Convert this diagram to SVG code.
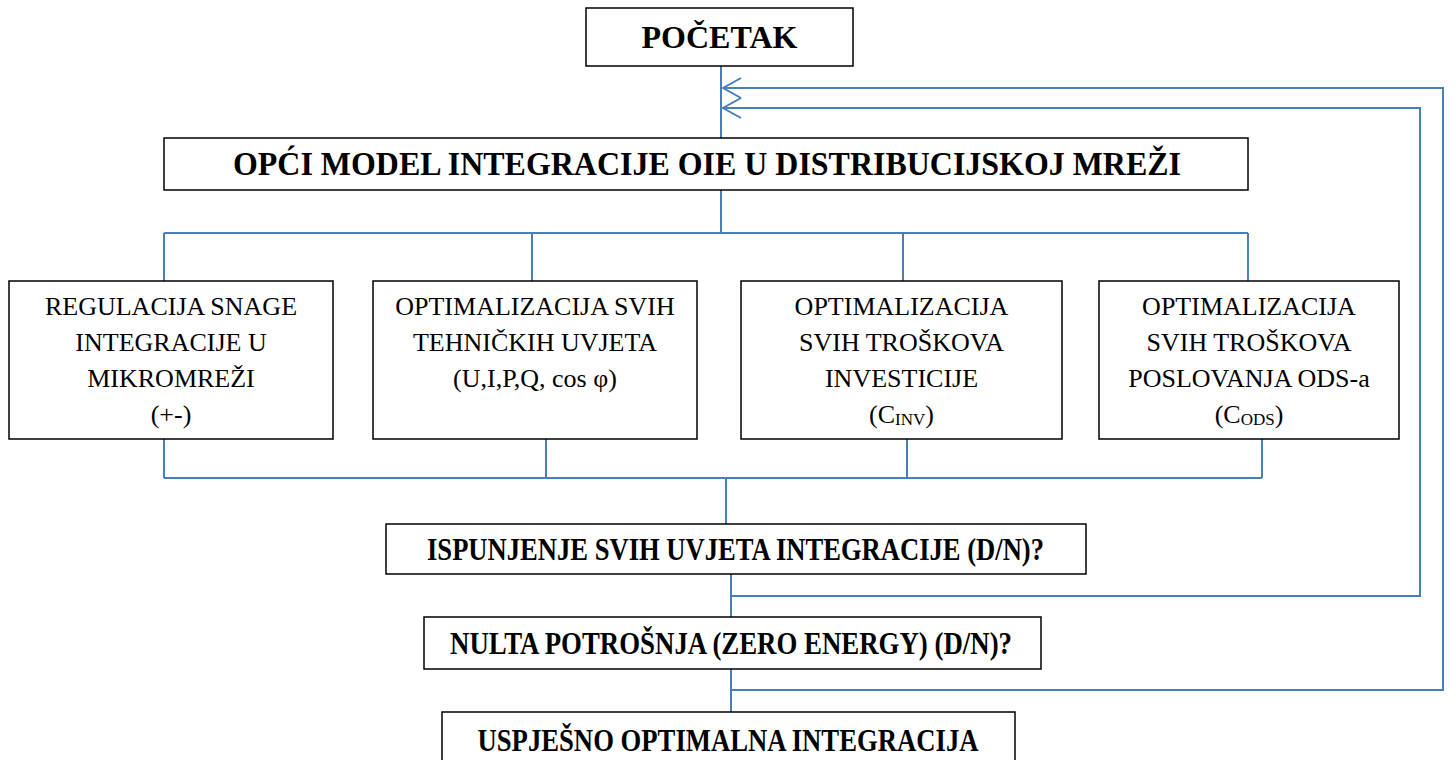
<svg xmlns="http://www.w3.org/2000/svg" width="1455" height="760" viewBox="0 0 1455 760">
<style>
.box{fill:#fff;stroke:#000;stroke-width:1.5}
.c{fill:none;stroke:#4a7ebb;stroke-width:2}
.t{font-family:"Liberation Serif","Times New Roman",serif;font-size:26px;fill:#000;text-anchor:middle}
.b{font-family:"Liberation Serif","Times New Roman",serif;font-weight:bold;fill:#000;text-anchor:middle}
.sub{font-size:17px}
</style>
<defs>
<marker id="chev" markerUnits="userSpaceOnUse" markerWidth="24" markerHeight="24" refX="0" refY="0" orient="auto" overflow="visible">
<path d="M-18,-10 L0,0 L-18,10" fill="none" stroke="#4a7ebb" stroke-width="2"/>
</marker>
</defs>
<rect width="1455" height="760" fill="#fff"/>
<g id="connectors">
<path class="c" d="M721,66 V138"/>
<path class="c" d="M721,190 V233"/>
<path class="c" d="M164,233 H1248 M164,233 V281 M532,233 V281 M903,233 V281 M1248,233 V281"/>
<path class="c" d="M164,439 V478 M546,439 V478 M907,439 V478 M1262,439 V478 M164,478 H1262"/>
<path class="c" d="M726,478 V524"/>
<path class="c" d="M731,574 V617"/>
<path class="c" d="M731,669 V712"/>
<path class="c" d="M731,596 H1420 V108 H723" marker-end="url(#chev)"/>
<path class="c" d="M731,690 H1443 V88 H723" marker-end="url(#chev)"/>
</g>
<g id="pocetak">
<rect class="box" x="586" y="8" width="267" height="58"/>
<text class="b" x="719.5" y="48" font-size="32">POČETAK</text>
</g>
<g id="opci">
<rect class="box" x="164" y="138" width="1084" height="52"/>
<text class="b" x="707" y="175" font-size="34" textLength="948" lengthAdjust="spacingAndGlyphs">OPĆI MODEL INTEGRACIJE OIE U DISTRIBUCIJSKOJ MREŽI</text>
</g>
<g id="regulacija">
<rect class="box" x="9" y="281" width="324" height="158"/>
<text class="t" x="171" y="315">REGULACIJA SNAGE</text>
<text class="t" x="171" y="351">INTEGRACIJE U</text>
<text class="t" x="171" y="387">MIKROMREŽI</text>
<text class="t" x="171" y="423">(+-)</text>
</g>
<g id="tehnicki">
<rect class="box" x="373" y="281" width="324" height="158"/>
<text class="t" x="535" y="315">OPTIMALIZACIJA SVIH</text>
<text class="t" x="535" y="351">TEHNIČKIH UVJETA</text>
<text class="t" x="535" y="387">(U,I,P,Q, cos φ)</text>
</g>
<g id="investicije">
<rect class="box" x="741" y="281" width="321" height="158"/>
<text class="t" x="901.5" y="315">OPTIMALIZACIJA</text>
<text class="t" x="901.5" y="351">SVIH TROŠKOVA</text>
<text class="t" x="901.5" y="387">INVESTICIJE</text>
<text class="t" x="901.5" y="423">(C<tspan class="sub" dy="2">INV</tspan><tspan dy="-2">)</tspan></text>
</g>
<g id="poslovanje">
<rect class="box" x="1099" y="281" width="300" height="158"/>
<text class="t" x="1249" y="315">OPTIMALIZACIJA</text>
<text class="t" x="1249" y="351">SVIH TROŠKOVA</text>
<text class="t" x="1249" y="387">POSLOVANJA ODS-a</text>
<text class="t" x="1249" y="423">(C<tspan class="sub" dy="2">ODS</tspan><tspan dy="-2">)</tspan></text>
</g>
<g id="ispunjenje">
<rect class="box" x="386" y="524" width="700" height="50"/>
<text class="b" x="735.5" y="560" font-size="31" textLength="617" lengthAdjust="spacingAndGlyphs">ISPUNJENJE SVIH UVJETA INTEGRACIJE (D/N)?</text>
</g>
<g id="nulta">
<rect class="box" x="424" y="617" width="617" height="52"/>
<text class="b" x="731" y="654" font-size="31" textLength="562" lengthAdjust="spacingAndGlyphs">NULTA POTROŠNJA (ZERO ENERGY) (D/N)?</text>
</g>
<g id="uspjesno">
<rect class="box" x="442" y="712" width="573" height="56"/>
<text class="b" x="728" y="751" font-size="31" textLength="501" lengthAdjust="spacingAndGlyphs">USPJEŠNO OPTIMALNA INTEGRACIJA</text>
</g>
</svg>
